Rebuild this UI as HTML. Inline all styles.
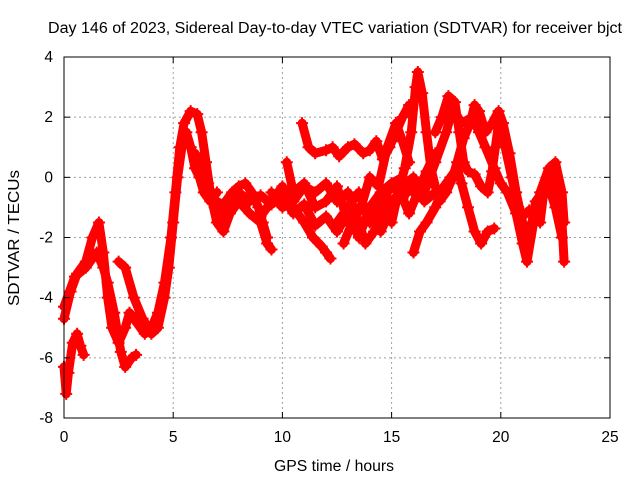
<!DOCTYPE html>
<html><head><meta charset="utf-8"><style>
body{margin:0;background:#fff}
svg text{font-family:"Liberation Sans",sans-serif;font-size:15.5px;fill:#000}
</style></head><body>
<svg id="chart" width="640" height="480" xmlns="http://www.w3.org/2000/svg">
<text x="48" y="33" textLength="574" lengthAdjust="spacingAndGlyphs">Day 146 of 2023, Sidereal Day-to-day VTEC variation (SDTVAR) for receiver bjct</text>
<text x="274" y="471" textLength="120" lengthAdjust="spacingAndGlyphs">GPS time / hours</text>
<text transform="translate(19,306) rotate(-90)" textLength="136" lengthAdjust="spacingAndGlyphs">SDTVAR / TECUs</text>
<g id="grid"></g>
<g id="series"></g>
<rect x="64" y="57" width="546" height="361" fill="none" stroke="#000" stroke-width="1"/>
<g id="ticks"></g>
</svg>
<script>
const xTicks=[0,5,10,15,20,25];
const yTicks=[-8,-6,-4,-2,0,2,4];
const traceA=[[0,-4.7],[0.3,-3.8],[0.6,-3.2],[1.0,-2.8],[1.3,-2.0],[1.6,-1.5],[1.8,-2.5],[2.0,-4.0],[2.2,-5.0],[2.5,-5.5],[2.8,-5.0],[3.0,-4.5],[3.3,-4.8],[3.7,-5.2],[4.0,-5.0],[4.3,-4.5],[4.6,-3.5],[4.9,-2.0],[5.1,-0.5],[5.3,1.0],[5.5,1.8],[5.8,2.2],[6.1,2.1],[6.3,1.5],[6.5,0.5],[6.7,-0.5],[6.9,-1.0],[7.1,-1.5],[7.4,-0.8],[7.7,-0.5],[8.0,-0.3],[8.3,-0.2],[8.6,-0.5],[8.9,-1.0],[9.1,-1.5],[9.3,-2.0]];
const traceB=[[0,-6.3],[0.1,-7.2],[0.2,-6.5],[0.4,-5.5],[0.6,-5.2],[0.75,-5.6],[0.9,-5.9]];
const traceC=[[0,-4.3],[0.5,-3.3],[1.0,-3.0],[1.5,-2.5],[1.8,-3.0],[2.0,-3.5],[2.3,-4.5],[2.6,-5.8],[2.8,-6.3],[3.1,-6.0],[3.3,-5.9]];
const traceD=[[2.5,-2.8],[2.8,-3.0],[3.2,-4.0],[3.6,-4.7],[4.0,-5.2],[4.3,-5.0],[4.6,-4.0],[4.8,-3.0],[5.0,-1.5],[5.2,0],[5.4,1.0],[5.6,1.5],[5.8,1.0],[6.0,0.3],[6.2,0],[6.4,-0.5],[6.7,-0.8],[7.0,-0.5]];
const traceE=[[10.9,1.8],[11.2,1.0],[11.5,0.8],[12.0,0.9],[12.3,1.0],[12.6,0.7],[13.0,1.0],[13.3,1.1],[13.7,0.8],[14.0,0.9],[14.3,1.2],[14.6,0.6],[14.9,1.0],[15.2,1.5],[15.5,2.0],[15.8,2.4]];
const traceF=[[15.0,-1.5],[15.3,-0.5],[15.6,0.3],[15.9,1.5],[16.1,3.0],[16.2,3.5],[16.4,2.8],[16.6,1.5],[16.8,0.3],[17.0,-0.3],[17.2,-0.8],[17.5,-0.5],[17.8,0],[18.0,0.5],[18.3,1.3],[18.6,1.8],[18.8,2.4],[19.0,2.2],[19.3,1.5],[19.6,1.8],[19.9,2.2],[20.1,1.8],[20.4,0.8],[20.7,-0.5],[21.0,-1.5],[21.3,-2.0],[21.6,-0.8],[21.9,-0.5],[22.2,-0.3],[22.5,-1.0],[22.8,-2.0]];
const traceG=[[16.0,-2.5],[16.3,-1.8],[16.6,-1.5],[17.0,-1.0],[17.4,-0.3],[17.7,0],[18.0,0.3],[18.2,-0.2],[18.5,-1.0],[18.8,-1.8],[19.1,-2.2],[19.4,-1.8],[19.7,-1.7]];
const traceH=[[17.0,1.5],[17.3,2.0],[17.6,2.7],[17.9,2.5],[18.1,1.5],[18.3,0.5],[18.5,0.2],[18.8,0.1],[19.1,-0.3],[19.4,-0.5],[19.6,0.2],[19.9,1.8],[20.2,1.0],[20.5,0],[20.8,-1.0],[21.0,-1.3],[21.3,-1.1],[21.6,-1.4],[21.8,-1.5],[22.0,-0.3],[22.3,0.2],[22.6,-0.5],[22.8,-1.5],[22.9,-2.8]];
const traceI=[[12.5,-1.5],[13.0,-1.0],[13.5,-0.5],[14.0,-1.5],[14.5,-1.0],[15.0,-0.2],[15.5,0],[16.0,-0.5],[16.5,-0.5],[17.0,0.5],[17.5,1.5],[17.8,2.3],[18.2,1.8],[18.7,2.0],[19.0,1.5],[19.3,1.0],[19.7,0.3],[20.0,-0.2],[20.3,-0.5],[20.7,-1.2],[21.0,-2.2],[21.2,-2.8],[21.5,-1.5],[21.8,-0.5],[22.2,0.3],[22.5,0.5],[22.8,-0.5],[22.9,-1.5]];
const traceJ=[[9.0,-1.3],[9.5,-0.8],[10.0,-0.3],[10.5,-1.0],[11.0,-1.5],[11.4,-2.0],[11.8,-2.3],[12.0,-2.5],[12.2,-2.7]];
const traceK=[[10.2,0.5],[10.5,-0.5],[11.0,-0.2],[11.5,-1.0],[12.0,-0.8],[12.5,-0.3],[13.0,-1.5],[13.5,-1.0],[14.0,-1.2],[14.5,-1.8],[15.0,-1.0],[15.5,-0.3],[16.0,0],[16.5,-0.8],[17.0,-0.5]];
const traceL=[[6.0,0.8],[6.3,0.3],[6.6,-0.2],[7.0,-1.5],[7.3,-1.8],[7.6,-1.2],[8.0,-0.8],[8.5,-1.2],[9.0,-1.5],[9.3,-2.2],[9.5,-2.4]];
const traceM=[[9.5,-0.5],[10.0,-1.0],[10.5,-0.8],[11.0,-0.3],[11.5,-0.5],[12.0,-0.2],[12.5,-0.8],[13.0,-0.5],[13.5,-1.5],[13.8,-2.2],[14.2,-1.8],[14.6,-1.2],[15.0,-0.8],[15.4,-0.5],[15.8,-1.2],[16.2,-0.5],[16.6,0.2],[17.0,0.8]];
const traceN=[[7.0,-0.8],[7.5,-1.0],[8.0,-0.5],[8.5,-0.8],[9.0,-0.6],[9.5,-0.9],[10.0,-0.6],[10.5,-1.2],[11.0,-0.9],[11.5,-1.6],[12.0,-1.3],[12.5,-1.8],[13.0,-1.2],[13.5,-2.0],[14.0,-1.0],[14.5,-0.5],[15.0,-0.2],[15.5,-0.7],[16.0,-0.2]];
const traceO=[[12.8,-2.2],[13.2,-1.5],[13.6,-1.0],[14.0,0],[14.4,-0.3],[14.8,1.0],[15.2,1.8],[15.5,1.2],[15.8,0.5]];
const traces=[traceA,traceB,traceC,traceD,traceE,traceF,traceG,traceH,traceI,traceJ,traceK,traceL,traceM,traceN,traceO];
const X0=64,X1=610,Y0=418,Y1=57;
const xs=h=>X0+(h-0)/25*(X1-X0);
const ys=v=>Y0-(v+8)/12*(Y0-Y1);
const NS='http://www.w3.org/2000/svg';
const grid=document.getElementById('grid'),tk=document.getElementById('ticks'),ser=document.getElementById('series');
function mk(tag,attrs,parent){const e=document.createElementNS(NS,tag);for(const k in attrs)e.setAttribute(k,attrs[k]);parent.appendChild(e);return e;}
xTicks.forEach(t=>{const x=xs(t);
 if(t>0&&t<25){const g=mk('line',{x1:x,x2:x,y1:Y1,y2:Y0,stroke:'#a0a0a0','stroke-dasharray':'2,3'},grid);
 
 }
 const l=mk('line',{x1:x,x2:x,y1:Y0,y2:Y0-6,stroke:'#000'},tk);
 const l2=mk('line',{x1:x,x2:x,y1:Y1,y2:Y1+6,stroke:'#000'},tk);
 const tx=mk('text',{x:x,y:442,'text-anchor':'middle'},tk);tx.textContent=t;
 
 });
yTicks.forEach(t=>{const y=ys(t);
 if(t>-8&&t<4){const g=mk('line',{x1:X0,x2:X1,y1:y,y2:y,stroke:'#a0a0a0','stroke-dasharray':'2,3'},grid);
 
 }
 const l=mk('line',{x1:X0,x2:X0+6,y1:y,y2:y,stroke:'#000'},tk);
 const l2=mk('line',{x1:X1,x2:X1-6,y1:y,y2:y,stroke:'#000'},tk);
 const tx=mk('text',{x:53,y:y+5,'text-anchor':'end'},tk);tx.textContent=t;
 
 });
traces.forEach((tr,i)=>{
 const d=tr.map((p,j)=>(j?'L':'M')+xs(p[0]).toFixed(1)+','+ys(p[1]).toFixed(1)).join(' ');
 const p=mk('path',{d:d,fill:'none',stroke:'#ff0000','stroke-width':9,'stroke-linejoin':'round','stroke-linecap':'round'},ser);
 
 
 tr.forEach(pt=>{const x=xs(pt[0]),y=ys(pt[1]);
  const m=mk('path',{d:`M${x-6},${y}h12M${x},${y-6}v12`,stroke:'#ff0000','stroke-width':2},ser);
  
  });
});
</script>
</body></html>
